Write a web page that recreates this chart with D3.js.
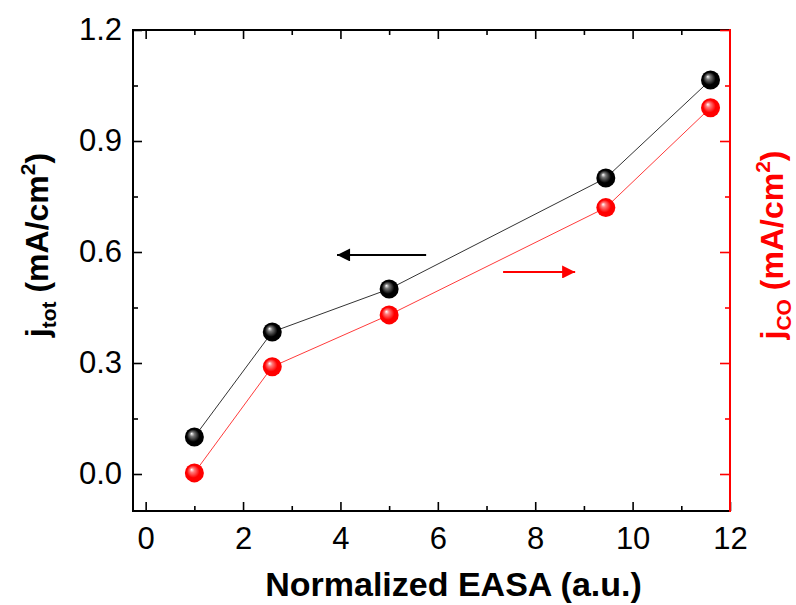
<!DOCTYPE html>
<html lang="en">
<head>
<meta charset="UTF-8">
<title>EASA vs current density</title>
<script src="https://d3js.org/d3.v7.min.js"></script>
<style>
  body { margin: 0; background: #fff; }
  svg text { font-family: "Liberation Sans", Arial, Helvetica, sans-serif; }
</style>
</head>
<body>
<svg id="chart" width="796" height="605"></svg>
<script>
// measured points
var easa = [1.0, 2.6, 5.0, 9.45, 11.6];
var jTot = [0.10, 0.384, 0.50, 0.80, 1.065];
var jCO  = [0.003, 0.29, 0.43, 0.72, 0.99];

var xMajor = [0, 2, 4, 6, 8, 10, 12];
var xMinor = [1, 3, 5, 7, 9, 11];
var yMajor = [0.0, 0.3, 0.6, 0.9, 1.2];
var yMinor = [0.15, 0.45, 0.75, 1.05];

var svg = d3.select("#chart");
var plotL = 133, plotR = 730, plotT = 30, plotB = 511;

var x = d3.scaleLinear().domain([-0.26, 12]).range([plotL, plotR]);
var y = d3.scaleLinear().domain([-0.1, 1.2]).range([plotB, plotT]);

var defs = svg.append("defs");
function ball(id, base, mid) {
  var g = defs.append("radialGradient").attr("id", id)
    .attr("cx", "50%").attr("cy", "50%").attr("r", "55%")
    .attr("fx", "35%").attr("fy", "32%");
  g.append("stop").attr("offset", "0%").attr("stop-color", "#ffffff");
  g.append("stop").attr("offset", "22%").attr("stop-color", mid);
  g.append("stop").attr("offset", "60%").attr("stop-color", base);
  g.append("stop").attr("offset", "100%").attr("stop-color", base);
}
ball("ballBlack", "#000000", "#777777");
ball("ballRed", "#ff0000", "#ff7a7a");

function arrowHead(id, color) {
  defs.append("marker").attr("id", id)
    .attr("viewBox", "0 0 10 10").attr("refX", 10).attr("refY", 5)
    .attr("markerWidth", 17).attr("markerHeight", 13)
    .attr("markerUnits", "userSpaceOnUse").attr("orient", "auto")
    .append("path").attr("d", "M0,0 L10,5 L0,10 Z").attr("fill", color);
}
arrowHead("headBlack", "#000");
arrowHead("headRed", "#ff0000");

// axes: ticks point inwards, majors longer than minors
function styleAxis(g, color) {
  g.select(".domain").remove();
  g.selectAll("line").attr("stroke", color).attr("stroke-width", 1.6);
  g.selectAll("text").attr("fill", color).style("font-size", "31px");
}

svg.append("g").attr("transform", "translate(0," + plotB + ")")
  .call(d3.axisBottom(x).tickValues(xMajor).tickSize(-9).tickPadding(16).tickFormat(d3.format("d")))
  .call(styleAxis, "#000");
svg.append("g").attr("transform", "translate(0," + plotB + ")")
  .call(d3.axisBottom(x).tickValues(xMinor).tickSize(-5).tickFormat(""))
  .call(styleAxis, "#000");
svg.append("g").attr("transform", "translate(0," + plotT + ")")
  .call(d3.axisTop(x).tickValues(xMajor.slice(0, -1)).tickSize(-9).tickFormat(""))
  .call(styleAxis, "#000");
svg.append("g").attr("transform", "translate(0," + plotT + ")")
  .call(d3.axisTop(x).tickValues(xMinor).tickSize(-5).tickFormat(""))
  .call(styleAxis, "#000");

svg.append("g").attr("transform", "translate(" + plotL + ",0)")
  .call(d3.axisLeft(y).tickValues(yMajor).tickSize(-9).tickPadding(11).tickFormat(d3.format(".1f")))
  .call(styleAxis, "#000");
svg.append("g").attr("transform", "translate(" + plotL + ",0)")
  .call(d3.axisLeft(y).tickValues(yMinor).tickSize(-5).tickFormat(""))
  .call(styleAxis, "#000");

// frame
svg.append("path")
  .attr("d", "M" + plotR + "," + plotT + "H" + plotL + "V" + plotB + "H" + plotR)
  .attr("fill", "none").attr("stroke", "#000").attr("stroke-width", 2);

// right axis in red
svg.append("g").attr("transform", "translate(" + plotR + ",0)")
  .call(d3.axisRight(y).tickValues(yMajor).tickSize(-10).tickFormat(""))
  .call(styleAxis, "#ff0000");
svg.append("g").attr("transform", "translate(" + plotR + ",0)")
  .call(d3.axisRight(y).tickValues(yMinor).tickSize(-5).tickFormat(""))
  .call(styleAxis, "#ff0000");
svg.append("line")
  .attr("x1", plotR).attr("x2", plotR).attr("y1", plotT - 1).attr("y2", plotB + 1)
  .attr("stroke", "#ff0000").attr("stroke-width", 2);

// series
var line = d3.line().x(function (d) { return x(d[0]); }).y(function (d) { return y(d[1]); });
var series = [
  { vals: jTot, stroke: "#333333", fill: "url(#ballBlack)" },
  { vals: jCO,  stroke: "#ff3b3b", fill: "url(#ballRed)" }
];
series.forEach(function (s) {
  var pts = easa.map(function (e, i) { return [e, s.vals[i]]; });
  svg.append("path").datum(pts).attr("d", line)
    .attr("fill", "none").attr("stroke", s.stroke).attr("stroke-width", 1);
});
series.forEach(function (s) {
  var pts = easa.map(function (e, i) { return [e, s.vals[i]]; });
  svg.append("g").selectAll("circle").data(pts).enter().append("circle")
    .attr("cx", function (d) { return x(d[0]); })
    .attr("cy", function (d) { return y(d[1]); })
    .attr("r", 9.5)
    .attr("fill", s.fill);
});

// arrows pointing to the axis each series belongs to
svg.append("line")
  .attr("x1", x(5.76)).attr("x2", x(3.93)).attr("y1", y(0.592)).attr("y2", y(0.592))
  .attr("stroke", "#000").attr("stroke-width", 2).attr("marker-end", "url(#headBlack)");
svg.append("line")
  .attr("x1", x(7.34)).attr("x2", x(8.82)).attr("y1", y(0.546)).attr("y2", y(0.546))
  .attr("stroke", "#ff0000").attr("stroke-width", 2).attr("marker-end", "url(#headRed)");

// axis titles
svg.append("text")
  .attr("x", (plotL + plotR) / 2 + 22).attr("y", 596)
  .attr("text-anchor", "middle")
  .style("font-size", "34px").style("font-weight", "bold")
  .text("Normalized EASA (a.u.)");

function yTitle(xPos, sub, color) {
  var t = svg.append("text")
    .attr("transform", "translate(" + xPos + ",245) rotate(-90)")
    .attr("text-anchor", "middle")
    .attr("fill", color)
    .style("font-size", "32px").style("font-weight", "bold");
  t.append("tspan").text("j");
  t.append("tspan").attr("dy", 8).style("font-size", "21px").text(sub);
  t.append("tspan").attr("dy", -8).text(" (mA/cm");
  t.append("tspan").attr("dy", -13).style("font-size", "21px").text("2");
  t.append("tspan").attr("dy", 13).text(")");
}
yTitle(48, "tot", "#000");
yTitle(783, "CO", "#ff0000");
</script>
</body>
</html>
